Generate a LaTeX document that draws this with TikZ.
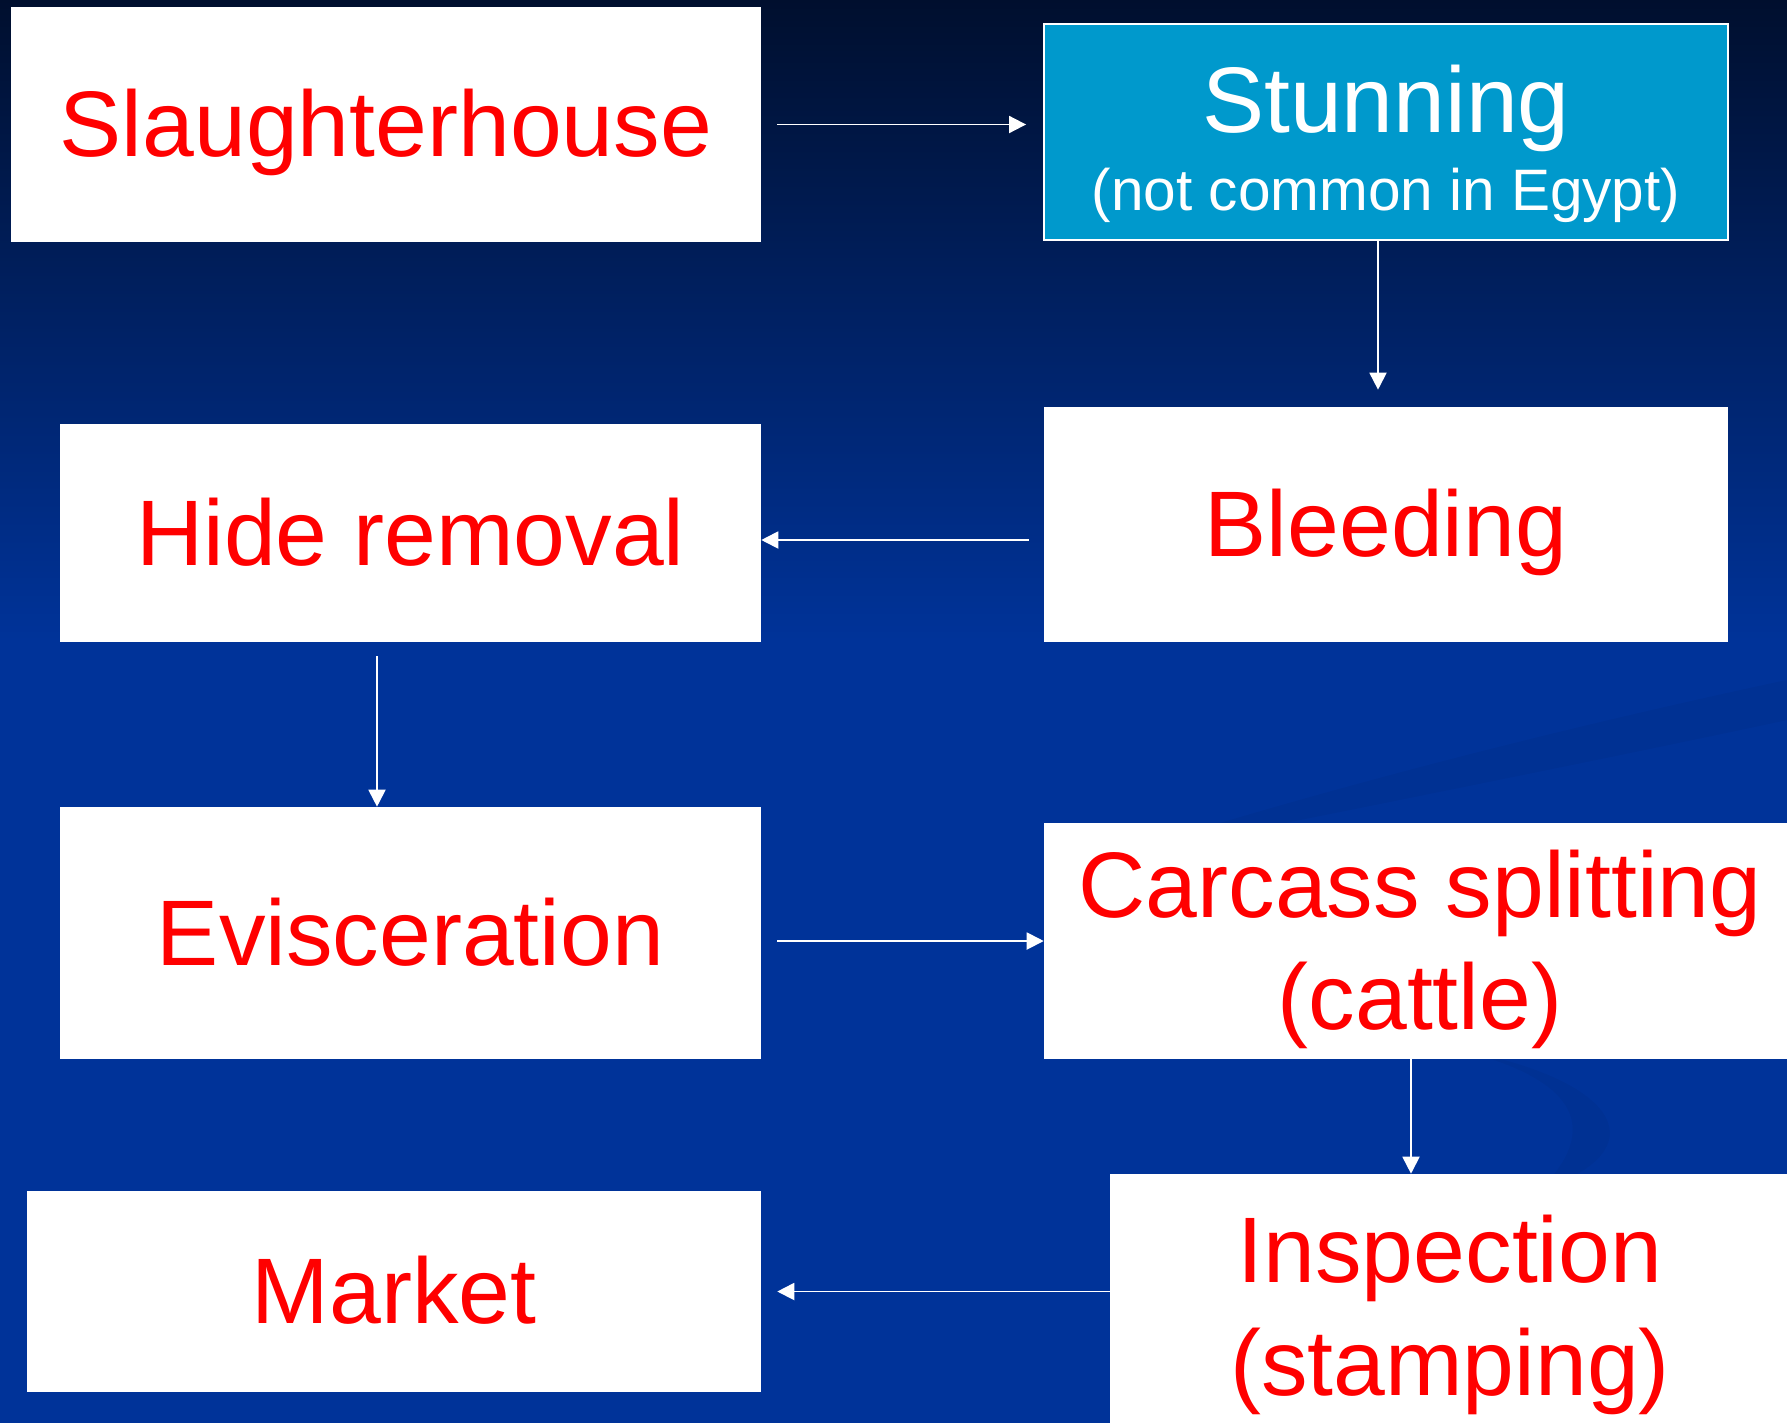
\documentclass[tikz,border=0pt]{standalone}
\usepackage{fontspec}
\setmainfont{Liberation Sans}
\usetikzlibrary{arrows.meta, positioning}

\definecolor{slidetop}{HTML}{000F2E}
\definecolor{slideblue}{HTML}{003399}
\definecolor{stunblue}{HTML}{0099CC}
\definecolor{stepred}{HTML}{FF0000}

% strut with the ascent/descent of the slide font
\newcommand{\linestrut}{\rule[-0.212em]{0pt}{1.117em}}

\begin{document}
\begin{tikzpicture}[
    x=0.02cm, y=-0.02cm,
    every node/.style={inner sep=0pt, align=center},
    stepbox/.style={fill=white, text=stepred, font=\fontsize{53}{64}\selectfont},
    arr/.style={draw=white, line width=0.038cm, -{Triangle[length=0.34cm, width=0.34cm]}}
]

    % Background
    \useasboundingbox (0,0) rectangle (1787,1423);
    \fill[slideblue] (0,0) rectangle (1787,1423);
    \shade[top color=slidetop, bottom color=slideblue] (0,0) rectangle (1787,640);
    \fill[black, opacity=0.04] (1100,860) .. controls (1350,780) and (1600,720) .. (1787,680) -- (1787,720) .. controls (1600,760) and (1350,810) .. (1100,860) -- cycle;
    \fill[black, opacity=0.04] (1460,1050) .. controls (1620,1080) and (1660,1150) .. (1540,1190) .. controls (1600,1130) and (1580,1080) .. (1460,1050) -- cycle;

    % Nodes
    \node[stepbox, minimum width=15cm, minimum height=4.7cm] (slaughter) at (386,124.5) {\linestrut Slaughterhouse};
    \node[fill=stunblue, draw=white, line width=0.04cm, text=white, minimum width=13.68cm, minimum height=4.32cm,
          font=\fontsize{53}{44.4}\selectfont] (stunning) at (1386,132)
          {\rule[-0.212em]{0pt}{1.2em}Stunning\\ \fontsize{33.3}{44.4}\selectfont\linestrut (not common in Egypt)};
    \node[stepbox, minimum width=13.68cm, minimum height=4.7cm] (bleeding) at (1386,524.5) {\linestrut Bleeding};
    \node[stepbox, minimum width=14.02cm, minimum height=4.36cm] (hide) at (410.5,533) {\linestrut Hide removal};
    \node[stepbox, minimum width=14.02cm, minimum height=5.04cm] (evisc) at (410.5,933) {\linestrut Evisceration};
    \node[stepbox, minimum width=15.04cm, minimum height=4.72cm] (carcass) at (1420,941) {\linestrut Carcass splitting\\ \linestrut (cattle)};
    \node[stepbox, minimum width=14.68cm, minimum height=4.02cm] (market) at (394,1291.5) {\linestrut Market};
    \node[stepbox, minimum width=13.6cm, minimum height=5.3cm] (inspection) at (1450,1306.5) {\linestrut Inspection\\ \linestrut (stamping)};

    % Arrows
    \draw[arr, shorten <=0.32cm, shorten >=0.34cm] (slaughter.east) -- (slaughter.east -| stunning.west);
    \draw[arr, shorten >=0.34cm] ([xshift=-0.16cm]stunning.south) -- ([xshift=-0.16cm]stunning.south |- bleeding.north);
    \draw[arr, shorten <=0.3cm] ([yshift=-0.31cm]bleeding.west) -- ([yshift=-0.31cm]bleeding.west -| hide.east);
    \draw[arr, shorten <=0.28cm] ([xshift=-0.67cm]hide.south) -- ([xshift=-0.67cm]hide.south |- evisc.north);
    \draw[arr, shorten <=0.32cm] (evisc.east |- carcass.west) -- (carcass.west);
    \draw[arr] ([xshift=-0.18cm]carcass.south) -- ([xshift=-0.18cm]carcass.south |- inspection.north);
    \draw[arr, shorten >=0.32cm] (inspection.west |- market.east) -- (market.east);
\end{tikzpicture}
\end{document}
